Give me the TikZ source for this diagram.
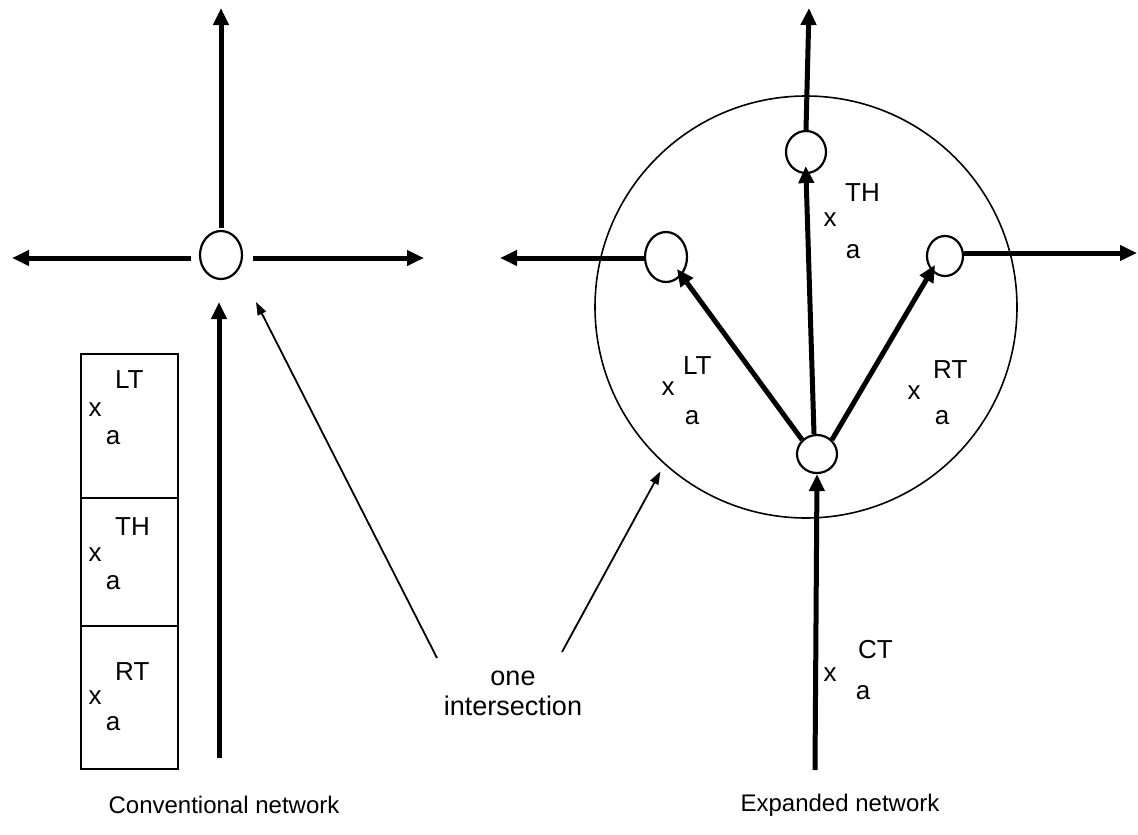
\documentclass[tikz,border=0pt]{standalone}
\usepackage{fontspec}
\setmainfont{Liberation Sans}
\usetikzlibrary{arrows.meta,shapes.geometric}
\begin{document}
\begin{tikzpicture}[x=1pt,y=-1pt,
  every node/.style={font=\fontsize{26}{30}\selectfont},
  junction/.style={ellipse,draw,line width=2.2pt,inner sep=0pt},
  thickarrow/.style={line width=5pt,-{Triangle[length=17pt,width=15pt]}},
  thinarrow/.style={line width=1.8pt,-{Triangle[length=13pt,width=9pt]}},
  cell/.style={draw,line width=1.6pt,minimum width=97pt,inner sep=0pt},
  lbl/.style={inner sep=0pt},
  suplbl/.style={inner sep=0pt,anchor=west},
  caption/.style={inner sep=0pt,font=\fontsize{24}{28}\selectfont}]
\useasboundingbox (0,0) rectangle (1138,835);
% ---------- conventional network ----------
\node[junction,minimum width=42pt,minimum height=48pt] (C) at (221,255) {};
\coordinate (Ctop) at (221,8);
\coordinate (Cleft) at (12,258);
\coordinate (Cright) at (424,258);
\coordinate (Cbot) at (219,758);
\coordinate (Ctip) at (256,302);
\draw[thickarrow] ([yshift=2pt]C.north) -- (Ctop);
\draw[thickarrow] ([xshift=-8pt,yshift=-3pt]C.west) -- (Cleft);
\draw[thickarrow] ([xshift=10pt,yshift=-3pt]C.east) -- (Cright);
\draw[thickarrow] (Cbot) -- (219,302);
\node[cell,minimum height=144pt,anchor=north west] (b1) at (80,353) {};
\node[cell,minimum height=128pt,anchor=north west] (b2) at (80,497) {};
\node[cell,minimum height=143pt,anchor=north west] (b3) at (80,625) {};
\node[lbl] (b1x) at (95,410) {x};
\node[suplbl] (b1s) at (115,380) {LT};
\node[lbl] (b1a) at (113,438) {a};
\node[lbl] (b2x) at (95,555) {x};
\node[suplbl] (b2s) at (115,527) {TH};
\node[lbl] (b2a) at (113,583) {a};
\node[lbl] (b3x) at (95,698) {x};
\node[suplbl] (b3s) at (115,672) {RT};
\node[lbl] (b3a) at (113,724) {a};
% ---------- expanded network ----------
\node[circle,draw,line width=1.6pt,minimum size=422pt,inner sep=0pt] (BC) at (806,307) {};
\node[junction,minimum width=40pt,minimum height=42pt] (T) at (806,152) {};
\node[junction,minimum width=42pt,minimum height=50pt] (L) at (666,257) {};
\node[junction,minimum width=36pt,minimum height=40pt] (R) at (945,256) {};
\node[junction,minimum width=40pt,minimum height=38pt] (B) at (817,454) {};
\coordinate (Ttop) at (809,8);
\coordinate (Lend) at (500,258);
\coordinate (Rend) at (1137,253);
\coordinate (Bbot) at (815,770);
\draw[thickarrow] (T.north) -- (Ttop);
\draw[thickarrow] ([yshift=-1pt]L.west) -- (Lend);
\draw[thickarrow] ([yshift=3pt]R.east) -- (Rend);
\draw[thickarrow,shorten >=-8pt] ([xshift=-3pt]B.north) -- (T.south);
\draw[thickarrow,shorten >=-8pt] (B.north west) -- (L.south east);
\draw[thickarrow,shorten >=-7pt] (B.north east) -- (R.south west);
\draw[thickarrow] (Bbot) -- (B.south);
\node[lbl] (tx) at (830,220) {x};
\node[suplbl] (ts) at (845,193) {TH};
\node[lbl] (ta) at (853,252) {a};
\node[lbl] (lx) at (668,389) {x};
\node[suplbl] (ls) at (683,366) {LT};
\node[lbl] (la) at (692,418) {a};
\node[lbl] (rx) at (914,393) {x};
\node[suplbl] (rs) at (933,370) {RT};
\node[lbl] (ra) at (942,418) {a};
\node[lbl] (cx) at (830,675) {x};
\node[suplbl] (cs) at (858,650) {CT};
\node[lbl] (ca) at (863,693) {a};
% ---------- annotation ----------
\node[align=center,inner sep=0pt,font=\fontsize{27}{30}\selectfont] (oi) at (513,693) {one\\intersection};
\coordinate (s1) at (437,658);
\coordinate (s2) at (562,652);
\draw[thinarrow] (s1) -- (Ctip);
\draw[thinarrow,shorten >=8pt] (s2) -- (BC.-132.6);
% ---------- captions ----------
\node[caption] (cap1) at (224,805) {Conventional network};
\node[caption] (cap2) at (840,805) {Expanded network};
\end{tikzpicture}
\end{document}
